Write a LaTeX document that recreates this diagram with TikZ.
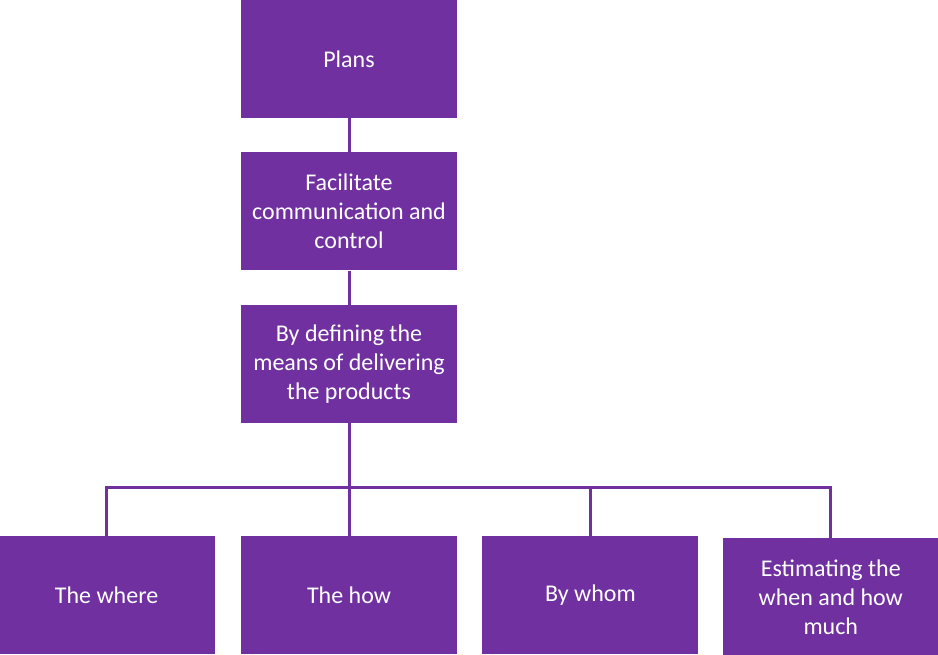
\documentclass[tikz,border=0pt]{standalone}
\usepackage{fontspec}
\setmainfont{Carlito}
\usepackage{xcolor}
\usetikzlibrary{positioning, calc}
\definecolor{planpurple}{HTML}{7030A0}

\begin{document}
\begin{tikzpicture}[
  node distance=34pt and 26pt,
  every node/.style={rectangle, fill=planpurple, text=white, font=\fontsize{24}{29}\selectfont, minimum width=216pt, minimum height=118pt, align=center, inner sep=0pt},
  link/.style={draw=planpurple, line width=3pt}
]
  \useasboundingbox (0,0) rectangle (938pt,-655pt);
  \node (plans) at (349pt,-59pt) {Plans};
  \node (facilitate) [below=of plans] {Facilitate\\communication and\\control};
  \node (means) [below=of facilitate] {By defining the\\means of delivering\\the products};
  \node (how) [below=113pt of means] {The how};
  \node (where) [left=of how] {The where};
  \node (whom) [right=25pt of how] {By whom};
  \node (estimate) [right=24pt of whom, yshift=-2pt] {Estimating the\\when and how\\much};

  \coordinate (bus) at ($(means.south)!0.57!(how.north)$);
  \draw[link] (plans) -- (facilitate);
  \draw[link] (facilitate) -- (means);
  \draw[link] (means) -- (how);
  \draw[link] (where.north) |- (bus -| how) -| (estimate.north);
  \draw[link] (bus -| whom) -- (whom.north);
\end{tikzpicture}
\end{document}
